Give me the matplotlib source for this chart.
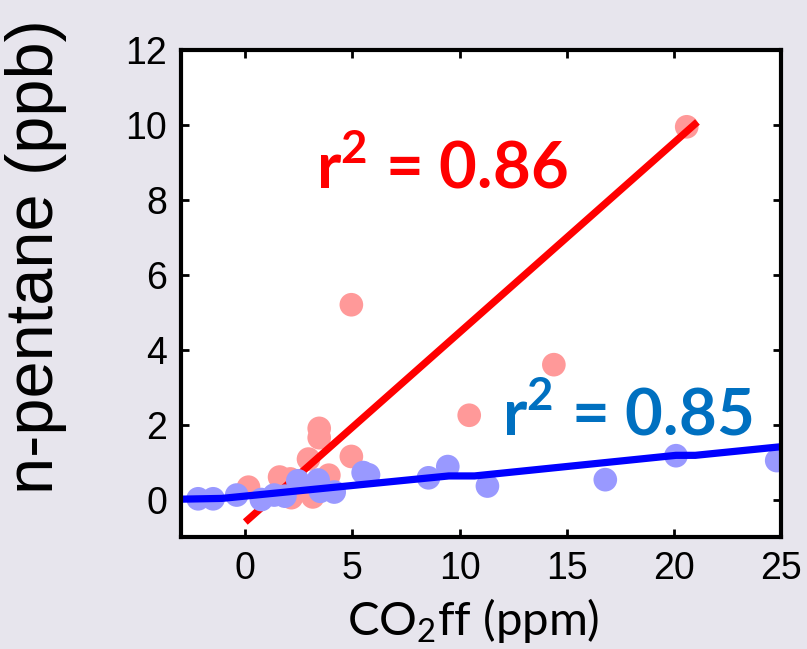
import matplotlib
matplotlib.use("Agg")
import matplotlib.pyplot as plt
import numpy as np

# ---- data ----
red_x = [20.6, 4.95, 14.4, 10.45, 3.45, 3.45, 4.95, 2.95, 3.9, 2.1, 0.15, 2.15, 3.15, 1.6]
red_y = [9.95, 5.2, 3.6, 2.25, 1.9, 1.65, 1.15, 1.08, 0.65, 0.55, 0.33, 0.05, 0.07, 0.6]

blue_x = [-2.2, -1.5, -0.4, 0.75, 1.35, 1.85, 2.45, 3.4, 3.5, 4.15, 5.5, 5.75,
          8.55, 9.45, 11.3, 16.8, 20.1, 24.8]
blue_y = [0.02, 0.02, 0.12, 0.0, 0.12, 0.09, 0.5, 0.52, 0.22, 0.2, 0.72, 0.66,
          0.58, 0.88, 0.36, 0.53, 1.17, 1.04]

red_fit_x = [0.0, 21.1]
red_fit_y = [-0.6, 10.08]

blue_fit_x = [-3.0, -1.1, 9.5, 10.7, 20.1, 21.0, 25.0]
blue_fit_y = [0.01, 0.03, 0.63, 0.63, 1.18, 1.18, 1.41]

x_ticks = [0, 5, 10, 15, 20, 25]
y_ticks = [0, 2, 4, 6, 8, 10, 12]

red_label = "r$^{\\mathbf{2}}$ = 0.86"
blue_label = "r$^{\\mathbf{2}}$ = 0.85"

# ---- style ----
plt.rcParams['mathtext.fontset'] = 'custom'
plt.rcParams['mathtext.bf'] = 'Lato:bold'
plt.rcParams['mathtext.rm'] = 'Lato'

fig = plt.figure(figsize=(8.07, 6.49), dpi=100)
fig.patch.set_facecolor('#e7e5ed')
ax = fig.add_axes([181/807, 1 - 537/649, 600/807, 487/649])
ax.set_facecolor('white')

ax.scatter(red_x, red_y, s=290, color='#ff9999', edgecolors='none', zorder=2)
ax.plot(red_fit_x, red_fit_y, color='#ff0000', lw=5.2, solid_capstyle='butt', zorder=3)
ax.scatter(blue_x, blue_y, s=290, color='#9999ff', edgecolors='none', zorder=4)
ax.plot(blue_fit_x, blue_fit_y, color='#0000ff', lw=5.2, solid_capstyle='butt', zorder=5)

ax.text(3.3, 8.85, red_label, color='#ff0000', fontsize=47, fontweight='bold',
        family='Lato', ha='left', va='center', zorder=6)
ax.text(12.0, 2.25, blue_label, color='#0070c0', fontsize=47, fontweight='bold',
        family='Lato', ha='left', va='center', zorder=6)

ax.set_xlim(-3, 25)
ax.set_ylim(-1, 12)
ax.set_xticks(x_ticks)
ax.set_yticks(y_ticks)
ax.tick_params(direction='in', length=6, width=2, top=True, right=True,
               labelsize=27, pad=10)
for lab in ax.get_xticklabels() + ax.get_yticklabels():
    lab.set_family('Liberation Sans')
for sp in ax.spines.values():
    sp.set_linewidth(3)
    sp.set_zorder(10)

ax.set_ylabel('n-pentane (ppb)', fontsize=48, family='Liberation Sans')
ax.yaxis.set_label_coords(-0.19, 0.575)
ax.set_xlabel('CO$_2$ff (ppm)', fontsize=34, family='Lato')
ax.xaxis.set_label_coords(0.487, -0.122)

fig.savefig('out.png', dpi=100, facecolor=fig.get_facecolor())
